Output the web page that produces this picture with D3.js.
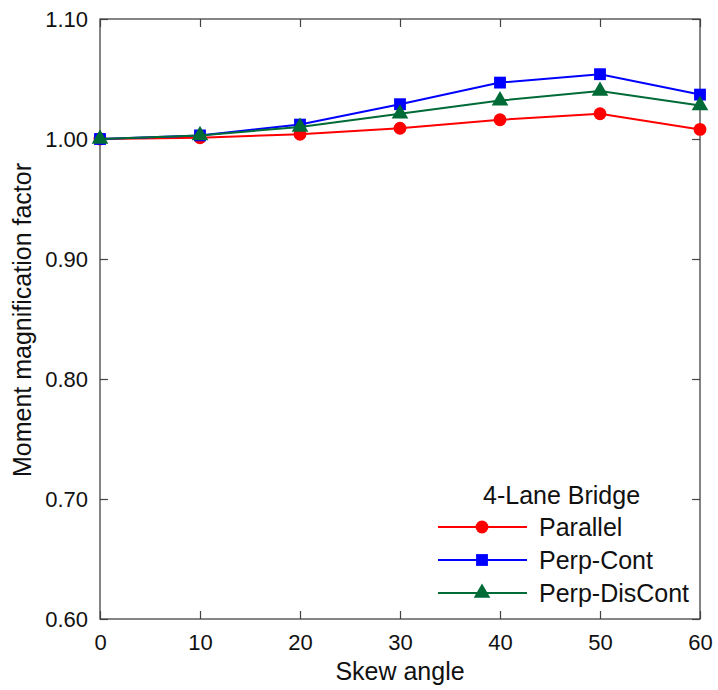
<!DOCTYPE html>
<html>
<head>
<meta charset="utf-8">
<script src="https://cdn.jsdelivr.net/npm/d3@7"></script>
<style>
  body { margin: 0; background: #fff; }
  svg text { font-family: "Liberation Sans", Arial, sans-serif; fill: #111; }
</style>
</head>
<body>
<div id="chart"></div>
<script>
// skew angles and series values
const skewAngles = [0, 10, 20, 30, 40, 50, 60];
const parallelValues = [1.000, 1.001, 1.004, 1.009, 1.016, 1.021, 1.008];
const perpContValues = [1.000, 1.003, 1.012, 1.029, 1.047, 1.054, 1.037];
const perpDisContValues = [1.000, 1.003, 1.010, 1.021, 1.032, 1.040, 1.028];
const xTicks = [0, 10, 20, 30, 40, 50, 60];
const yTicks = [0.60, 0.70, 0.80, 0.90, 1.00, 1.10];

const seriesList = [
    { name: 'Parallel', values: parallelValues, color: '#ff0000', marker: 'circle' },
    { name: 'Perp-Cont', values: perpContValues, color: '#0000ff', marker: 'square' },
    { name: 'Perp-DisCont', values: perpDisContValues, color: '#006b36', marker: 'triangle' }
];

const width = 718, height = 690;
const margin = { top: 19, right: 18, bottom: 71, left: 100 };
const innerW = width - margin.left - margin.right;
const innerH = height - margin.top - margin.bottom;

const svg = d3.select('#chart').append('svg')
    .attr('width', width)
    .attr('height', height);

const g = svg.append('g')
    .attr('transform', 'translate(' + margin.left + ',' + margin.top + ')');

const x = d3.scaleLinear().domain([0, 60]).range([0, innerW]);
const y = d3.scaleLinear().domain([0.60, 1.10]).range([innerH, 0]);

const axisColor = '#444';
const tickLen = 8;

// frame
g.append('rect')
    .attr('width', innerW)
    .attr('height', innerH)
    .attr('fill', 'none')
    .attr('stroke', axisColor)
    .attr('stroke-width', 1.3);

// inward ticks on all four sides
function styleAxis(sel, showLabels) {
    sel.select('.domain').remove();
    sel.selectAll('.tick line').attr('stroke', axisColor).attr('stroke-width', 1.2);
    sel.selectAll('.tick text')
        .style('font-size', '22px')
        .attr('fill', '#111');
    if (!showLabels) sel.selectAll('.tick text').remove();
}

g.append('g')
    .attr('transform', 'translate(0,' + innerH + ')')
    .call(d3.axisBottom(x).tickValues(xTicks).tickSize(-tickLen).tickPadding(15).tickFormat(d3.format('d')))
    .call(styleAxis, true);

g.append('g')
    .call(d3.axisTop(x).tickValues(xTicks).tickSize(-tickLen))
    .call(styleAxis, false);

g.append('g')
    .call(d3.axisLeft(y).tickValues(yTicks).tickSize(-tickLen).tickPadding(12).tickFormat(d3.format('.2f')))
    .call(styleAxis, true);

g.append('g')
    .attr('transform', 'translate(' + innerW + ',0)')
    .call(d3.axisRight(y).tickValues(yTicks).tickSize(-tickLen))
    .call(styleAxis, false);

// axis titles
svg.append('text')
    .attr('x', margin.left + innerW / 2)
    .attr('y', 680)
    .attr('text-anchor', 'middle')
    .style('font-size', '25px')
    .text('Skew angle');

svg.append('text')
    .attr('transform', 'translate(31,' + (margin.top + innerH / 2 + 1) + ') rotate(-90)')
    .attr('text-anchor', 'middle')
    .style('font-size', '25px')
    .text('Moment magnification factor');

// markers
const symbolTypes = {
    circle: d3.symbol().type(d3.symbolCircle).size(130),
    square: d3.symbol().type(d3.symbolSquare).size(140),
    triangle: d3.symbol().type(d3.symbolTriangle).size(120)
};

const line = d3.line()
    .x(function (d, i) { return x(skewAngles[i]); })
    .y(function (d) { return y(d); });

seriesList.forEach(function (s) {
    const sg = g.append('g');
    sg.append('path')
        .datum(s.values)
        .attr('d', line)
        .attr('fill', 'none')
        .attr('stroke', s.color)
        .attr('stroke-width', 2);
    sg.selectAll('path.marker')
        .data(s.values)
        .enter()
        .append('path')
        .attr('class', 'marker')
        .attr('transform', function (d, i) {
            return 'translate(' + x(skewAngles[i]) + ',' + y(d) + ')';
        })
        .attr('d', symbolTypes[s.marker])
        .attr('fill', s.color);
});

// legend
const legend = svg.append('g').attr('transform', 'translate(438,495)');
legend.append('text')
    .attr('x', 45)
    .attr('y', 0)
    .attr('dy', '0.35em')
    .style('font-size', '25px')
    .text('4-Lane Bridge');

seriesList.forEach(function (s, i) {
    const row = legend.append('g').attr('transform', 'translate(0,' + (32 + i * 33) + ')');
    row.append('line')
        .attr('x1', 0).attr('x2', 89)
        .attr('stroke', s.color)
        .attr('stroke-width', 2);
    row.append('path')
        .attr('transform', 'translate(44,0)')
        .attr('d', symbolTypes[s.marker])
        .attr('fill', s.color);
    row.append('text')
        .attr('x', 101)
        .attr('dy', '0.35em')
        .style('font-size', '25px')
        .text(s.name);
});
</script>
</body>
</html>
